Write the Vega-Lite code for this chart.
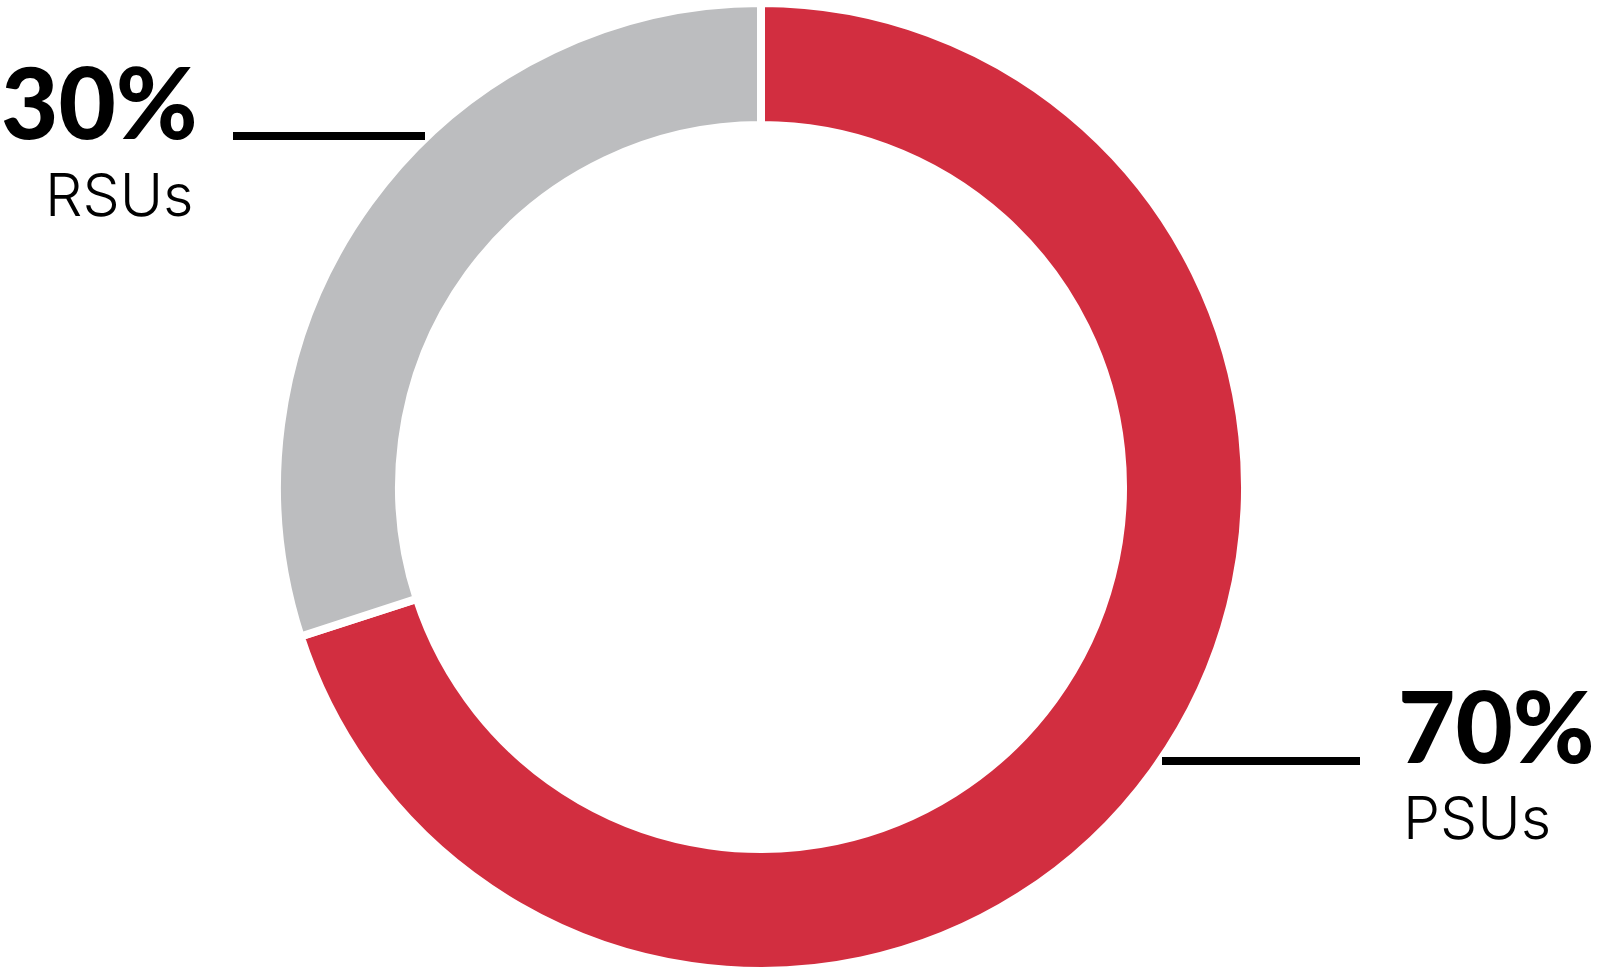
{
  "$schema": "https://vega.github.io/schema/vega-lite/v6.json",
  "width": 1617,
  "height": 975,
  "autosize": "none",
  "padding": 0,
  "background": "white",
  "config": {"view": {"stroke": null}},
  "datasets": {
    "shares": [
      {"award": "PSUs", "share": 70, "rank": 1},
      {"award": "RSUs", "share": 30, "rank": 2}
    ],
    "leaders": [
      {"award": "RSUs", "x1": -528, "x2": -336, "y": 351},
      {"award": "PSUs", "x1": 401, "x2": 599, "y": -274}
    ],
    "labels": [
      {"award": "RSUs", "pct": "30%", "px": -760, "py": 348, "nx": -716, "ny": 271},
      {"award": "PSUs", "pct": "70%", "px": 637, "py": -276, "nx": 642, "ny": -352}
    ]
  },
  "layer": [
    {
      "data": {"name": "shares"},
      "mark": {"type": "arc", "outerRadius": 484, "innerRadius": 362, "stroke": "white", "strokeWidth": 8},
      "encoding": {
        "theta": {"field": "share", "type": "quantitative", "stack": true},
        "order": {"field": "rank", "type": "quantitative"},
        "color": {
          "field": "award",
          "type": "nominal",
          "scale": {"domain": ["PSUs", "RSUs"], "range": ["#D22E40", "#BCBDBF"]},
          "legend": null
        },
        "x": {"datum": 0, "type": "quantitative", "scale": {"domain": [-761, 856], "nice": false, "zero": false}, "axis": null},
        "y": {"datum": 0, "type": "quantitative", "scale": {"domain": [-488, 487], "nice": false, "zero": false}, "axis": null}
      }
    },
    {
      "data": {"name": "leaders"},
      "mark": {"type": "rule", "color": "black", "strokeWidth": 8, "strokeCap": "butt"},
      "encoding": {
        "x": {"field": "x1", "type": "quantitative"},
        "x2": {"field": "x2"},
        "y": {"field": "y", "type": "quantitative"}
      }
    },
    {
      "data": {"name": "labels"},
      "mark": {"type": "text", "align": "left", "baseline": "alphabetic", "font": "Lato", "fontWeight": 900, "fontSize": 99, "color": "black"},
      "encoding": {
        "x": {"field": "px", "type": "quantitative"},
        "y": {"field": "py", "type": "quantitative"},
        "text": {"field": "pct"}
      }
    },
    {
      "data": {"name": "labels"},
      "mark": {"type": "text", "align": "left", "baseline": "alphabetic", "font": "Inter", "fontWeight": 300, "fontSize": 59, "color": "black"},
      "encoding": {
        "x": {"field": "nx", "type": "quantitative"},
        "y": {"field": "ny", "type": "quantitative"},
        "text": {"field": "award"}
      }
    }
  ]
}
